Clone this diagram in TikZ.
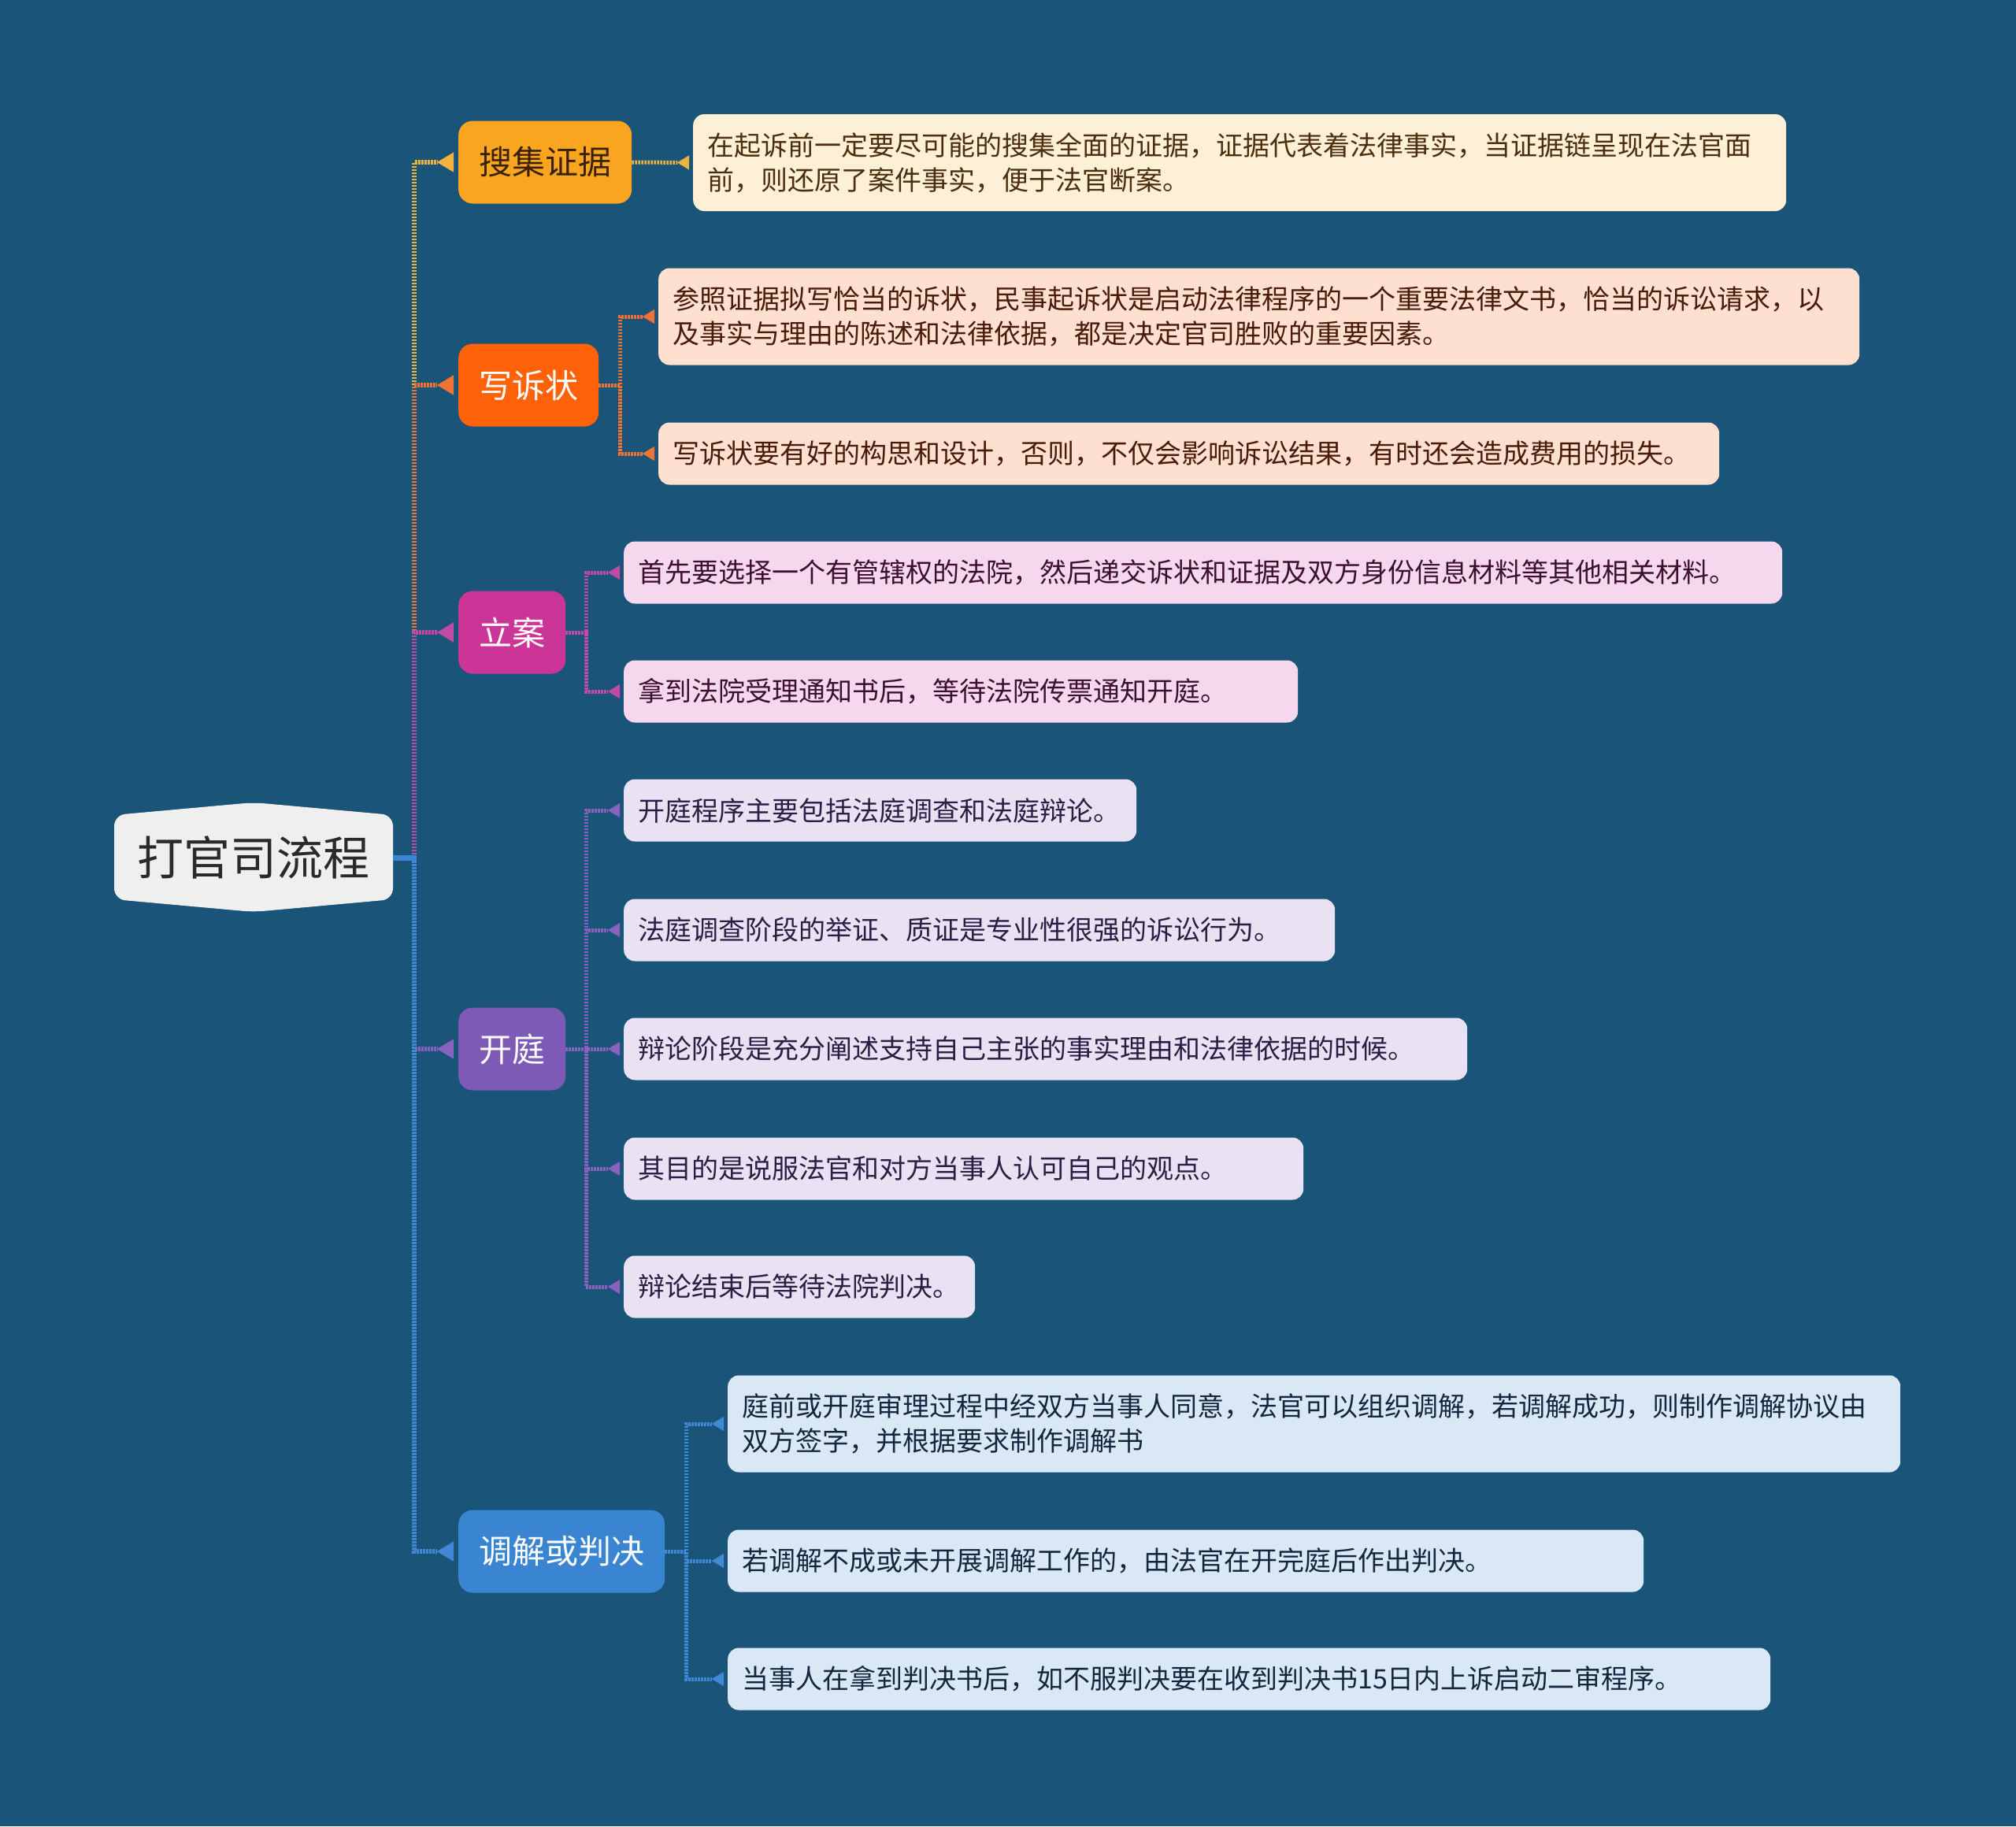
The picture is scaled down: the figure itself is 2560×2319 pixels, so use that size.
\documentclass[tikz,border=0pt]{standalone}
\usepackage{fontspec}
\setmainfont{Noto Sans CJK SC}
\usetikzlibrary{arrows.meta,calc}
\definecolor{bg}{HTML}{1B5479}
\definecolor{rootfill}{HTML}{EFEFEF}
\definecolor{roottext}{HTML}{2A2A2A}
\definecolor{c1}{HTML}{F9A51F}
\definecolor{c2}{HTML}{FF6208}
\definecolor{c3}{HTML}{CB3597}
\definecolor{c4}{HTML}{7D5AB5}
\definecolor{c5}{HTML}{3985D2}
\definecolor{k1}{HTML}{EEB43F}
\definecolor{k2}{HTML}{F07334}
\definecolor{k3}{HTML}{C24AA2}
\definecolor{k4}{HTML}{8862BE}
\definecolor{k5}{HTML}{4189D6}
\definecolor{f1}{HTML}{FEF0D6}
\definecolor{f2}{HTML}{FDE0D0}
\definecolor{f3}{HTML}{F5D8EE}
\definecolor{f4}{HTML}{E8E2F3}
\definecolor{f5}{HTML}{DAE8F6}
\definecolor{t1}{HTML}{4B2E0E}
\definecolor{t2}{HTML}{4A1A0A}
\definecolor{t3}{HTML}{3D0F2E}
\definecolor{t4}{HTML}{2B1E45}
\definecolor{t5}{HTML}{12263D}
\definecolor{bt1}{HTML}{3A2208}
\tikzset{
  branchbox/.style={rounded corners=18pt, inner xsep=26pt, inner ysep=0pt,
    minimum height=105pt, anchor=west, font=\fontsize{42}{50}\selectfont},
  leafbox/.style={rounded corners=14pt, inner xsep=18pt, inner ysep=0pt,
    minimum height=79pt, anchor=west, align=left, font=\fontsize{34}{44}\selectfont},
  twoline/.style={minimum height=123pt},
  trunkconn/.style={line width=6pt, dash pattern=on 2.5pt off 1.5pt,
    -{Triangle[reversed,length=21pt,width=25pt,line width=0.1pt]}, shorten >=6pt},
  leafconn/.style={line width=5pt, dash pattern=on 2.5pt off 1.5pt,
    -{Triangle[reversed,length=15pt,width=18pt,line width=0.1pt]}, shorten >=5pt}
}
\begin{document}
\begin{tikzpicture}[x=1pt,y=-1pt]
\fill[bg] (0,0) rectangle (2560,2319);
\useasboundingbox (0,0) rectangle (2560,2319);

% root
\fill[rootfill, rounded corners=14pt] (145,1089) -- (145,1035) -- (322,1019) -- (499,1035)
  -- (499,1142) -- (322,1158) -- (145,1142) -- cycle;
\node[inner sep=0pt, minimum width=354pt, minimum height=107pt, text=roottext,
  font=\fontsize{59}{65}\selectfont] (root) at (322,1089) {打官司流程};
\coordinate (tr) at (526,1089);

% branches
\node[branchbox, fill=c1, text=bt1] (b1) at (582,206) {搜集证据};
\node[branchbox, fill=c2, text=white] (b2) at (582,489) {写诉状};
\node[branchbox, fill=c3, text=white] (b3) at (582,803) {立案};
\node[branchbox, fill=c4, text=white] (b4) at (582,1332) {开庭};
\node[branchbox, fill=c5, text=white] (b5) at (582,1970) {调解或判决};

% leaves
\node[leafbox, twoline, fill=f1, text=t1, text width=1352pt] (l1) at (880,206.5)
  {在起诉前一定要尽可能的搜集全面的证据，证据代表着法律事实，当证据链呈现在法官面\\前，则还原了案件事实，便于法官断案。};
\node[leafbox, twoline, fill=f2, text=t2, text width=1489pt] (l2a) at (836,402)
  {参照证据拟写恰当的诉状，民事起诉状是启动法律程序的一个重要法律文书，恰当的诉讼请求，以\\及事实与理由的陈述和法律依据，都是决定官司胜败的重要因素。};
\node[leafbox, fill=f2, text=t2, text width=1311pt] (l2b) at (836,576)
  {写诉状要有好的构思和设计，否则，不仅会影响诉讼结果，有时还会造成费用的损失。};
\node[leafbox, fill=f3, text=t3, text width=1435pt] (l3a) at (792,727)
  {首先要选择一个有管辖权的法院，然后递交诉状和证据及双方身份信息材料等其他相关材料。};
\node[leafbox, fill=f3, text=t3, text width=820pt] (l3b) at (792,878)
  {拿到法院受理通知书后，等待法院传票通知开庭。};
\node[leafbox, fill=f4, text=t4, text width=615pt] (l4a) at (792,1029)
  {开庭程序主要包括法庭调查和法庭辩论。};
\node[leafbox, fill=f4, text=t4, text width=867pt] (l4b) at (792,1181)
  {法庭调查阶段的举证、质证是专业性很强的诉讼行为。};
\node[leafbox, fill=f4, text=t4, text width=1035pt] (l4c) at (792,1332)
  {辩论阶段是充分阐述支持自己主张的事实理由和法律依据的时候。};
\node[leafbox, fill=f4, text=t4, text width=827pt] (l4d) at (792,1484)
  {其目的是说服法官和对方当事人认可自己的观点。};
\node[leafbox, fill=f4, text=t4, text width=410pt] (l4e) at (792,1634)
  {辩论结束后等待法院判决。};
\node[leafbox, twoline, fill=f5, text=t5, text width=1453pt] (l5a) at (924,1808)
  {庭前或开庭审理过程中经双方当事人同意，法官可以组织调解，若调解成功，则制作调解协议由\\双方签字，并根据要求制作调解书};
\node[leafbox, fill=f5, text=t5, text width=1127pt] (l5b) at (924,1982)
  {若调解不成或未开展调解工作的，由法官在开完庭后作出判决。};
\node[leafbox, fill=f5, text=t5, text width=1288pt] (l5c) at (924,2132)
  {当事人在拿到判决书后，如不服判决要在收到判决书15日内上诉启动二审程序。};

% trunk connectors
\draw[trunkconn, k1] (tr) |- (b1.west);
\draw[trunkconn, k2] (tr) |- (b2.west);
\draw[trunkconn, k3] (tr) |- (b3.west);
\draw[trunkconn, k4] (tr) |- (b4.west);
\draw[trunkconn, k5] (tr) |- (b5.west);
\draw[line width=7pt, c5] (root.east) -- ([xshift=3pt]tr);

% leaf connectors
\coordinate (j2) at ([xshift=27pt]b2.east);
\coordinate (j3) at ([xshift=26pt]b3.east);
\coordinate (j4) at ([xshift=26pt]b4.east);
\coordinate (j5) at ([xshift=27pt]b5.east);
\draw[leafconn, k1] (b1.east) -- (l1.west);
\foreach \l in {l2a,l2b}{\draw[leafconn, k2] (b2.east) -- (j2) |- (\l.west);}
\foreach \l in {l3a,l3b}{\draw[leafconn, k3] (b3.east) -- (j3) |- (\l.west);}
\foreach \l in {l4a,l4b,l4c,l4d,l4e}{\draw[leafconn, k4] (b4.east) -- (j4) |- (\l.west);}
\foreach \l in {l5a,l5b,l5c}{\draw[leafconn, k5] (b5.east) -- (j5) |- (\l.west);}
\end{tikzpicture}
\end{document}
